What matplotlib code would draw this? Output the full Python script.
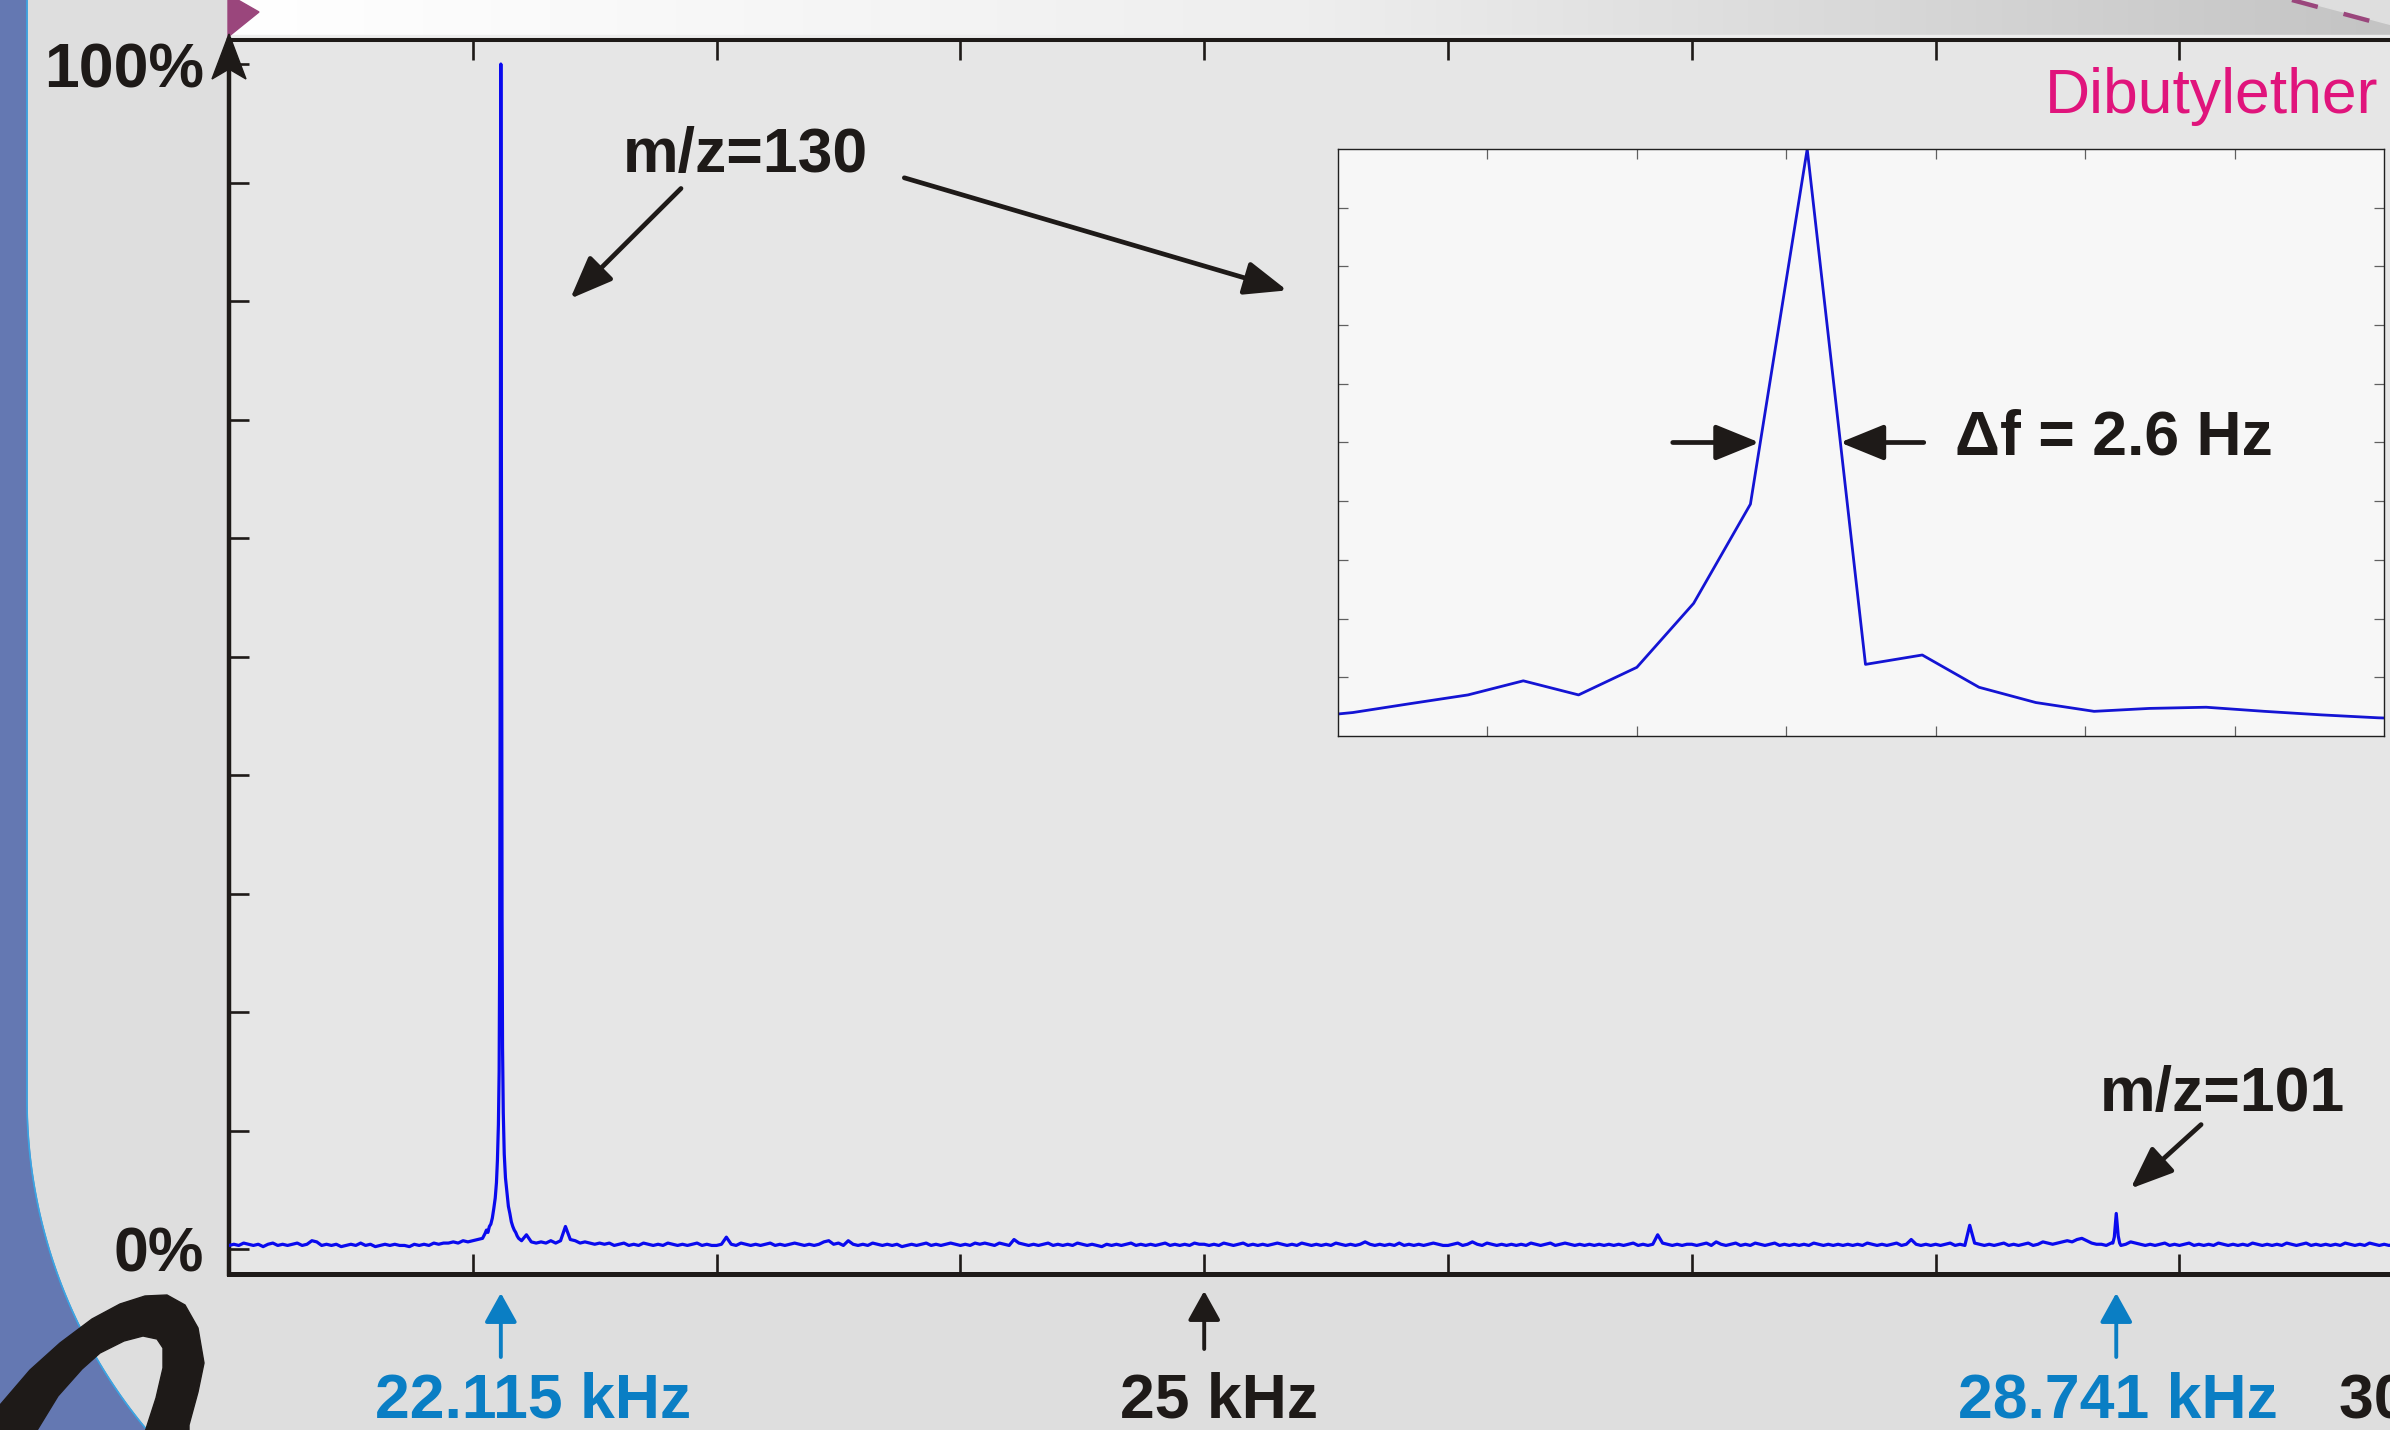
import numpy as np
import matplotlib
matplotlib.use("Agg")
import matplotlib.pyplot as plt
from matplotlib.patches import Polygon, Rectangle
from matplotlib.colors import LinearSegmentedColormap
from matplotlib.transforms import blended_transform_factory

plt.rcParams['font.family'] = ['Liberation Sans', 'DejaVu Sans']

# ---------------- data ----------------
# baseline of the FT spectrum, 21.00 .. 30.00 kHz every 20 Hz, in tenths of a percent
noise_start_khz = 21.0
noise_step_khz = 0.02
noise_tenths = [
    3,4,3,5,4,3,4,2,4,5, 3,4,3,4,5,3,4,7,6,3, 4,3,4,2,3,4,3,5,3,4, 2,3,4,3,4,3,3,2,4,3, 4,3,5,4,5,5,6,5,7,6,
    7,8,9,12,14,40,60,20,9,8, 7,12,6,5,6,5,7,5,7,19, 8,7,5,6,5,4,5,4,5,3, 4,5,3,4,3,5,4,3,4,3, 5,4,3,4,3,4,5,3,4,3,
    3,4,10,4,3,5,4,3,4,3, 4,5,3,4,3,4,5,4,3,4, 3,4,6,7,4,5,3,7,4,3, 4,3,5,4,3,4,3,4,2,3, 4,3,4,5,3,4,3,4,5,4,
    3,4,3,5,4,5,4,3,5,4, 3,8,5,4,3,4,3,4,5,3, 4,3,4,3,5,4,3,4,3,2, 4,3,4,3,4,5,3,4,3,4, 3,4,5,3,4,3,4,3,5,4,
    4,3,4,3,5,4,3,4,5,3, 4,3,4,3,4,5,4,3,4,3, 5,4,3,4,3,4,3,5,4,3, 4,3,4,6,4,3,4,3,4,3, 5,3,4,3,4,3,4,5,4,3,
    3,4,5,3,4,6,4,3,5,4, 3,4,3,4,3,4,3,5,4,3, 4,5,3,4,5,4,3,4,3,4, 3,4,3,4,3,4,3,4,5,3, 4,3,4,12,5,4,3,4,3,4,
    4,3,4,5,3,6,4,3,4,5, 3,4,3,5,4,3,4,5,3,4, 3,4,3,4,3,5,4,3,4,3, 4,3,4,3,4,3,5,4,3,4, 3,4,5,3,4,8,4,3,4,3,
    4,3,4,5,3,4,3,20,5,4, 3,4,3,4,5,3,4,3,4,5, 3,4,6,5,4,5,6,7,6,8, 9,7,5,4,4,3,5,4,3,4, 6,5,4,3,4,3,4,5,3,4,
    3,4,5,3,4,3,4,3,5,4, 3,4,3,4,3,5,4,3,4,3, 4,3,5,4,3,4,5,3,4,3, 4,3,4,3,5,4,3,4,3,5, 4,3,4,3,4,5,4,3,4,5,
    4,
]

# m/z = 130 peak (kHz, %)
peak130_khz = [22.050, 22.056, 22.062, 22.068, 22.074, 22.080, 22.086, 22.092, 22.097, 22.101,
               22.105, 22.108, 22.110, 22.112, 22.114, 22.115, 22.116, 22.118, 22.120, 22.122,
               22.125, 22.129, 22.134, 22.140, 22.146, 22.152, 22.158, 22.164, 22.170, 22.176,
               22.182, 22.188]
peak130_pct = [1.3, 1.6, 1.4, 1.9, 2.1, 2.6, 3.4, 4.3, 5.6, 7.5,
               10.5, 15, 24, 45, 80, 100, 85, 50, 28, 17,
               11.5, 8.0, 6.0, 4.8, 3.6, 3.0, 2.3, 1.9, 1.6, 1.4,
               1.1, 0.9]

# m/z = 101 peak (kHz, %)
peak101_khz = [28.727, 28.733, 28.738, 28.741, 28.744, 28.749, 28.755]
peak101_pct = [0.5, 1.0, 2.2, 3.0, 2.3, 1.1, 0.5]

# inset: zoom on the m/z = 130 line (Hz, %)
inset_hz = [22098.5, 22100.5, 22102.4, 22104.35, 22106.2, 22108.05, 22110.0, 22111.9,
            22113.8, 22115.7, 22117.65, 22119.55, 22121.45, 22123.35, 22125.3, 22127.15,
            22129.05, 22131.0, 22132.9, 22134.8, 22136.7]
inset_pct = [3.0, 4.0, 5.5, 7.0, 9.4, 7.0, 11.7, 22.6,
             39.5, 100, 12.2, 13.8, 8.3, 5.7, 4.2, 4.7,
             4.9, 4.2, 3.6, 3.1, 2.8]

ytick_pct = [0, 10, 20, 30, 40, 50, 60, 70, 80, 90, 100]
ytick_labels = ['0%', '', '', '', '', '', '', '', '', '', '100%']
xtick_khz = [22, 23, 24, 25, 26, 27, 28, 29, 30]

marker_khz = [22.115, 25.0, 28.741, 30.0]
marker_labels = ['22.115 kHz', '25 kHz', '28.741 kHz', '30 kHz']

# ---------------- styling ----------------
W, H = 2390, 1430
INK = '#1e1a18'
BLUE_TXT = '#0a7ec4'
MAGENTA = '#e0147c'
PURPLE = '#9a467c'
marker_colors = [BLUE_TXT, INK, BLUE_TXT, INK]
marker_text_offset = [0.132, 0.061, 0.007, 0.06]
marker_arrow_y = [(1357, 1293), (1349, 1291), (1357, 1293), (1349, 1291)]

fig = plt.figure(figsize=(W / 100, H / 100), dpi=100, facecolor='#dedede')

# background decorations (pixel coordinates, y downwards)
bg = fig.add_axes([0, 0, 1, 1], zorder=0)
bg.set_facecolor('#dedede')
grad = np.linspace(0, 1, 256).reshape(1, -1)
gcmap = LinearSegmentedColormap.from_list('g', ['#ffffff', '#eeeeee', '#c4c4c4'])
bg.imshow(grad, extent=(229, W, 36, 0), cmap=gcmap, aspect='auto', zorder=1)
bg.add_patch(Rectangle((229, 35), W - 229, 6, color='#ededed', zorder=1))
bg.add_patch(Polygon([(2300, 0), (W, 0), (W, 24)], closed=True, color='#dedede', zorder=2))
bg.plot([2292, 2400], [0, 29], color=PURPLE, lw=3.2, ls=(0, (6, 6)), zorder=3)
bg.add_patch(Polygon([(228, 0), (238, 0), (259, 12), (228, 37)], closed=True,
                     color=PURPLE, zorder=3))
ys = np.linspace(1100, 1430, 60)
xs = 541 - np.sqrt(514 ** 2 - (ys - 1100) ** 2)
band = [(0, 0), (27, 0)] + list(zip(xs, ys)) + [(0, H)]
bg.add_patch(Polygon(band, closed=True, color='#6478b2', zorder=2))
bg.plot([27] + list(xs), [0] + list(ys), color='#3aa6e4', lw=1.2, zorder=3)
swoosh = [(0, 1405), (30, 1370), (60, 1343), (92, 1319), (120, 1304), (145, 1296),
          (167, 1295), (185, 1305), (198, 1328), (204, 1363), (198, 1392), (189, 1425),
          (189, 1432), (145, 1432), (156, 1398), (163, 1368), (163, 1348), (157, 1339),
          (143, 1336), (124, 1341), (100, 1353), (82, 1369), (58, 1396), (36, 1432), (0, 1432)]
bg.add_patch(Polygon(swoosh, closed=True, color=INK, zorder=4))
bg.set_xlim(0, W)
bg.set_ylim(H, 0)
bg.axis('off')

# ---------------- main spectrum ----------------
px_per_khz = 243.8
ax = fig.add_axes([229 / W, 1 - 1274 / H, 10 * px_per_khz / W, (1274 - 40) / H],
                  zorder=2, facecolor='#e6e6e6')

grid_f = noise_start_khz + noise_step_khz * np.arange(len(noise_tenths))
grid_y = np.array(noise_tenths) / 10.0
keep = ~((grid_f > 22.045) & (grid_f < 22.192)) & ~((grid_f > 28.724) & (grid_f < 28.758))
f_all = np.concatenate([grid_f[keep], peak130_khz, peak101_khz])
y_all = np.concatenate([grid_y[keep], peak130_pct, peak101_pct])
order = np.argsort(f_all)
ax.plot(f_all[order], y_all[order], color='#0a0aee', lw=2.3, zorder=3)

ax.set_xlim(21.0, 31.0)
ax.set_ylim(-2.11, 102.03)
ax.spines['right'].set_visible(False)
ax.spines['left'].set_linewidth(3.2)
ax.spines['bottom'].set_linewidth(3.6)
ax.spines['top'].set_linewidth(2.9)
for s in ax.spines.values():
    s.set_color(INK)
ax.set_xticks(xtick_khz)
ax.tick_params(axis='x', direction='in', length=14.4, width=1.9, color=INK,
               top=True, bottom=True, labelbottom=False, labeltop=False)
ax.set_yticks(ytick_pct, ytick_labels)
ax.tick_params(axis='y', direction='in', length=14.4, width=1.9, color=INK,
               left=True, right=False, pad=18, labelsize=45, labelcolor=INK)
for lab in ax.get_yticklabels():
    lab.set_fontweight('bold')

arrow_big = dict(arrowstyle='-|>,head_length=1.3,head_width=0.52', mutation_scale=20,
                 lw=3.4, color=INK, shrinkA=0, shrinkB=0)
ax.text(23.117, 90.9, 'm/z=130', fontsize=45, fontweight='bold', color=INK,
        ha='center', va='baseline')
ax.annotate('', xy=(22.40, 80.2), xytext=(22.854, 89.5), arrowprops=arrow_big)
ax.annotate('', xy=(25.34, 80.9), xytext=(23.77, 90.4), arrowprops=arrow_big)
ax.text(29.175, 11.65, 'm/z=101', fontsize=45, fontweight='bold', color=INK,
        ha='center', va='baseline', clip_on=False)
ax.annotate('', xy=(28.80, 5.1), xytext=(29.089, 10.5), arrowprops=arrow_big,
            annotation_clip=False)

trans = blended_transform_factory(ax.transData, fig.transFigure)
for xk, lab, col, off, (ytail, ytip) in zip(marker_khz, marker_labels, marker_colors,
                                           marker_text_offset, marker_arrow_y):
    ax.annotate('', xy=(xk, 1 - ytip / H), xycoords=('data', 'figure fraction'),
                xytext=(xk, 1 - ytail / H), textcoords=('data', 'figure fraction'),
                arrowprops=dict(arrowstyle='-|>,head_length=0.9,head_width=0.5',
                                mutation_scale=20, lw=2.8, color=col,
                                shrinkA=0, shrinkB=0),
                annotation_clip=False)
    ax.text(xk + off, 1 - 1417 / H, lab, transform=trans, fontsize=45,
            fontweight='bold', color=col, ha='center', va='baseline', clip_on=False)

# ---------------- inset ----------------
ins = fig.add_axes([1338 / W, 1 - 736 / H, 1046 / W, 587 / H], zorder=4, facecolor='#f7f7f7')
ins.plot(inset_hz, inset_pct, color='#1414d4', lw=2.0)
ins.set_xlim(22100, 22135)
ins.set_ylim(0, 100)
ins.set_xticks([22105, 22110, 22115, 22120, 22125, 22130])
ins.set_yticks([10, 20, 30, 40, 50, 60, 70, 80, 90])
ins.tick_params(direction='in', length=7, width=0.9, color='#606060',
                top=True, right=True, labelbottom=False, labelleft=False)
for s in ins.spines.values():
    s.set_linewidth(1.0)
    s.set_color('#202020')
arrow_in = dict(arrowstyle='-|>,head_length=1.35,head_width=0.55', mutation_scale=20,
                lw=3.4, color=INK, shrinkA=0, shrinkB=0)
ins.annotate('', xy=(22114.1, 50), xytext=(22111.2, 50), arrowprops=arrow_in)
ins.annotate('', xy=(22116.8, 50), xytext=(22119.6, 50), arrowprops=arrow_in)
ins.text(22120.65, 48.0, '\u0394f = 2.6 Hz', fontsize=45, fontweight='bold', color=INK,
         ha='left', va='baseline')

# ---------------- overlay ----------------
ov = fig.add_axes([0, 0, 1, 1], zorder=10)
ov.set_xlim(0, W)
ov.set_ylim(H, 0)
ov.axis('off')
ov.add_patch(Polygon([(229, 34), (212, 79), (229, 69), (246, 79)], closed=True, color=INK))
ov.text(2378, 113, 'Dibutylether', fontsize=45, color=MAGENTA, ha='right', va='baseline')

fig.savefig('out.png', dpi=100, facecolor=fig.get_facecolor())
